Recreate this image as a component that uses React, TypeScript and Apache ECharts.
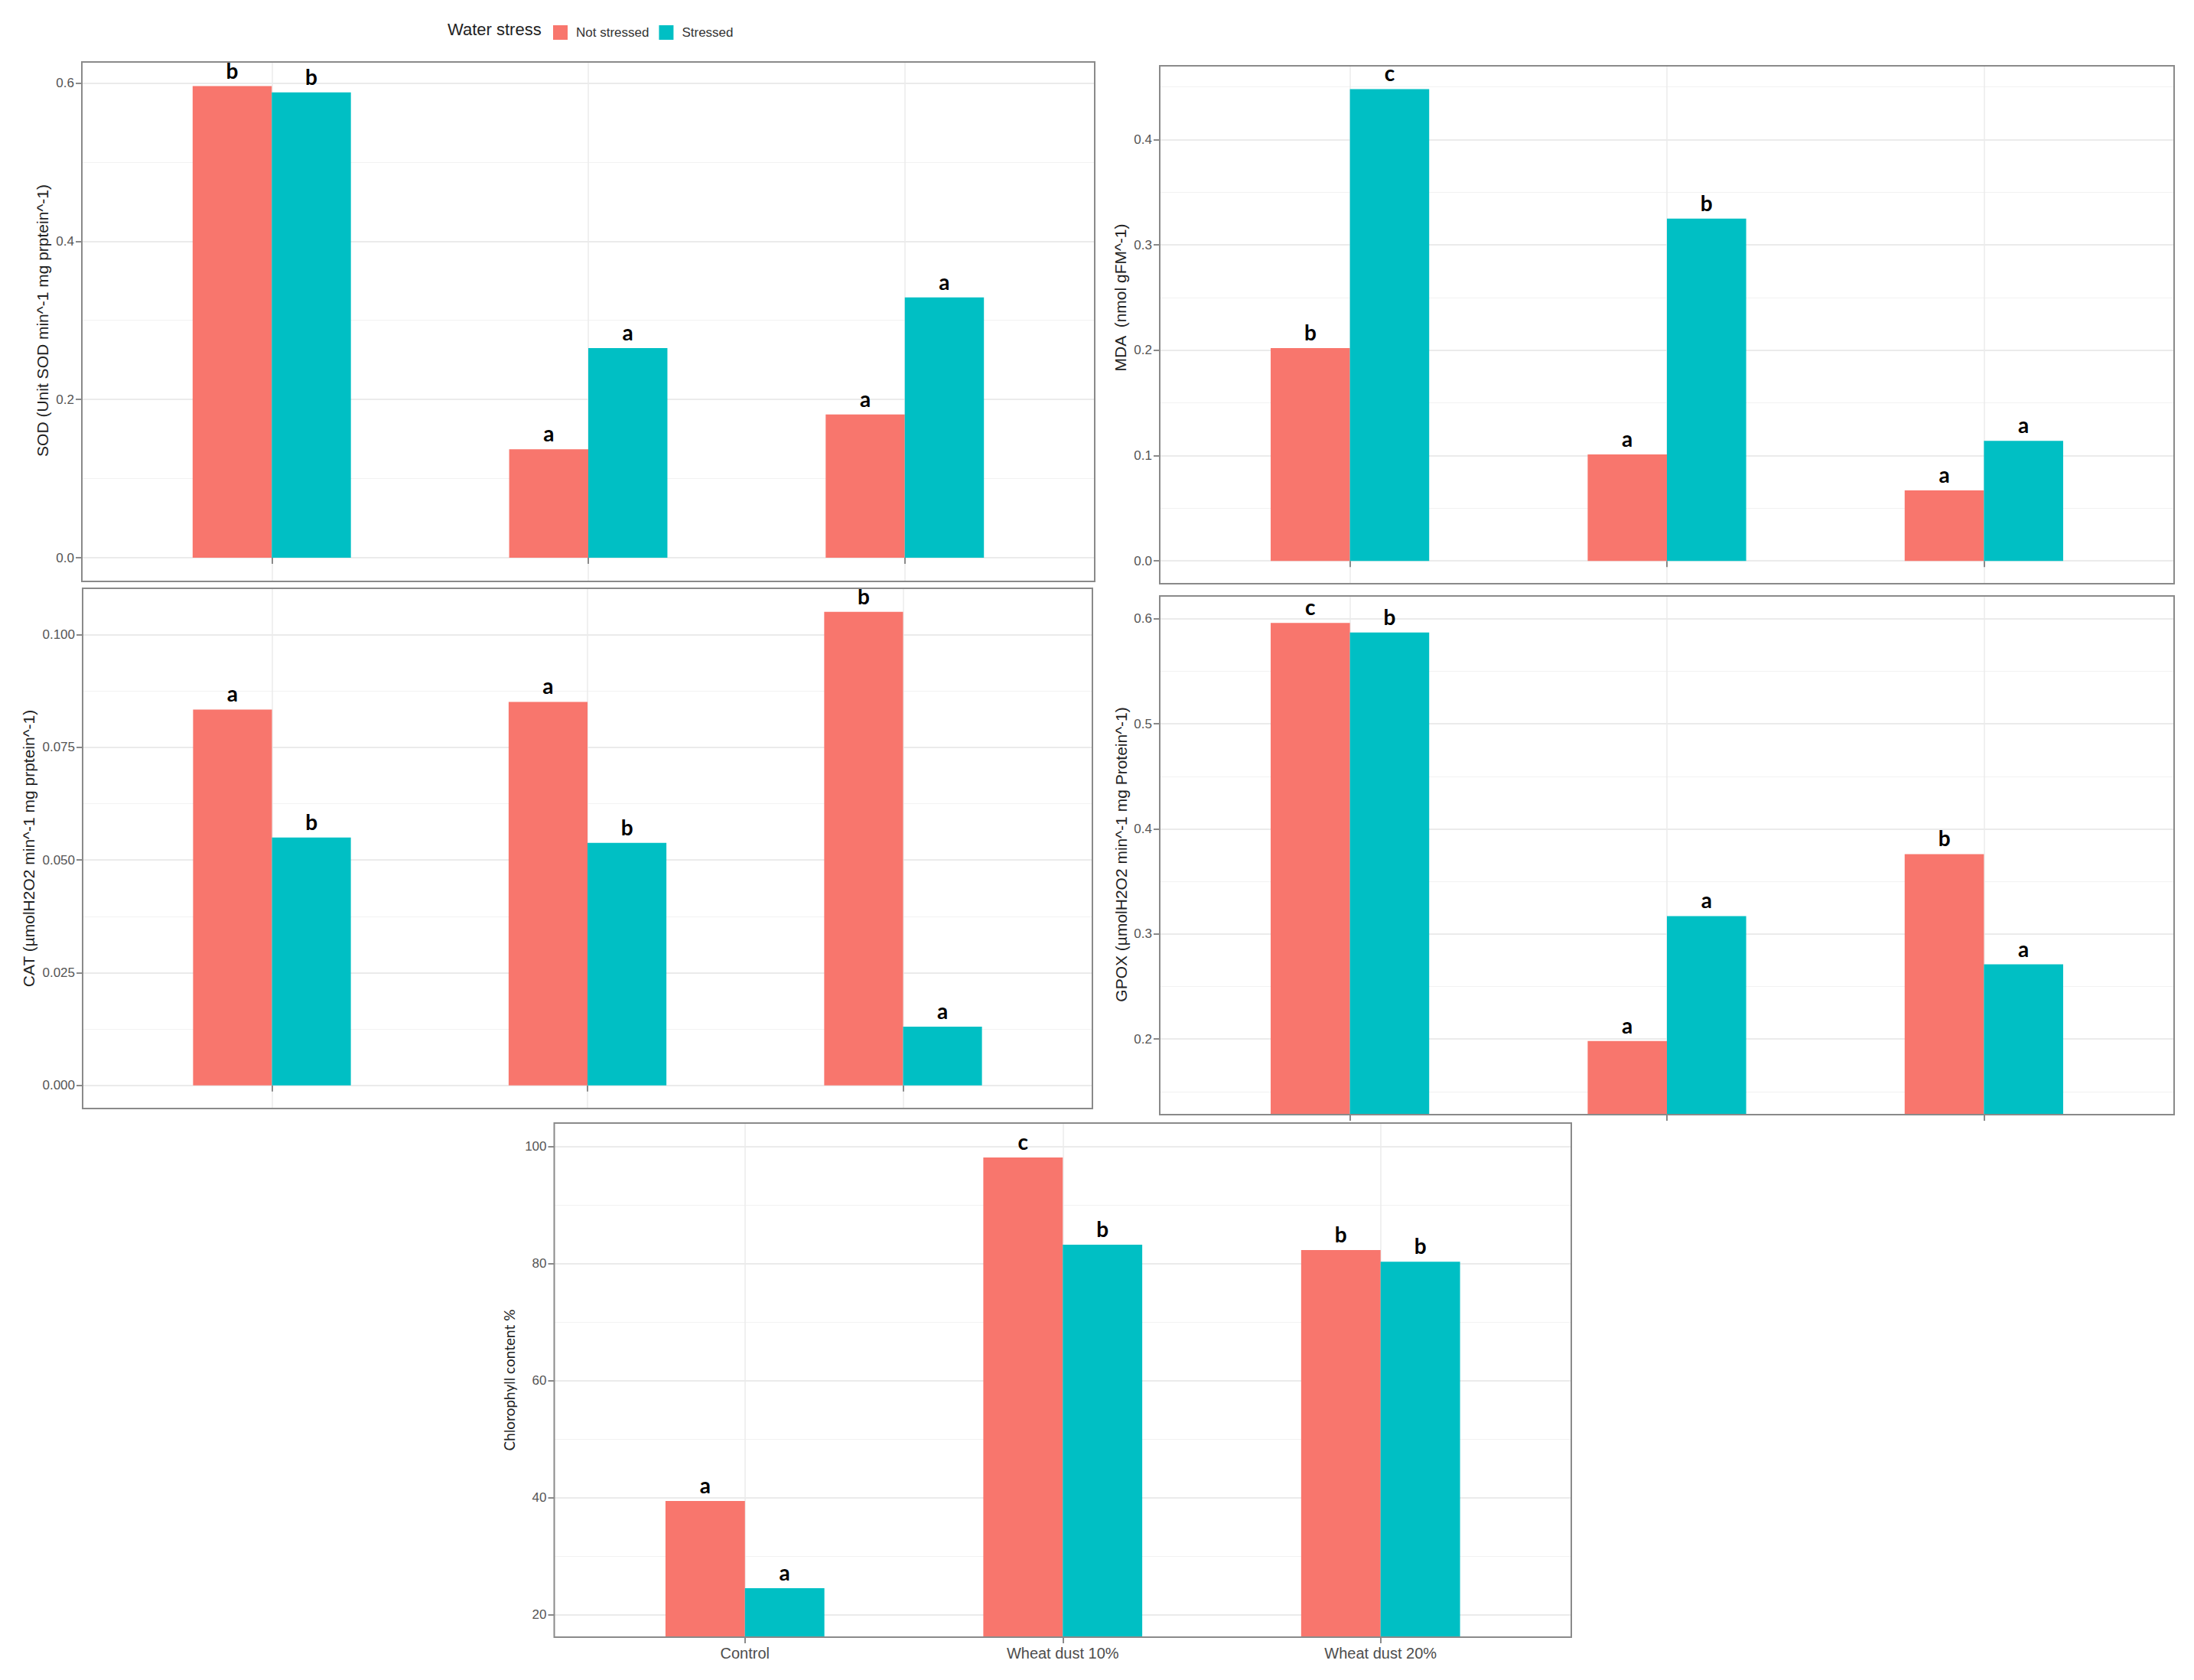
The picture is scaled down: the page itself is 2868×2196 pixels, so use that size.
import React, { useEffect, useRef } from 'react';
import * as echarts from 'echarts';

// ---------- data ----------
const categories = ['Control', 'Wheat dust 10%', 'Wheat dust 20%'];
const seriesNames = ['Not stressed', 'Stressed'];
const legendTitle = 'Water stress';

const sodNot = [0.596, 0.137, 0.181];
const sodStr = [0.588, 0.265, 0.329];
const sodNotLetters = ['b', 'a', 'a'];
const sodStrLetters = ['b', 'a', 'a'];
const sodTicks = [0, 0.2, 0.4, 0.6];
const sodMinor = [0.1, 0.3, 0.5];

const mdaNot = [0.202, 0.101, 0.067];
const mdaStr = [0.448, 0.325, 0.114];
const mdaNotLetters = ['b', 'a', 'a'];
const mdaStrLetters = ['c', 'b', 'a'];
const mdaTicks = [0, 0.1, 0.2, 0.3, 0.4];
const mdaMinor = [0.05, 0.15, 0.25, 0.35, 0.45];

const catNot = [0.0834, 0.0851, 0.1051];
const catStr = [0.055, 0.0538, 0.013];
const catNotLetters = ['a', 'a', 'b'];
const catStrLetters = ['b', 'b', 'a'];
const catTicks = [0, 0.025, 0.05, 0.075, 0.1];
const catMinor = [0.0125, 0.0375, 0.0625, 0.0875];

const gpoxNot = [0.596, 0.198, 0.376];
const gpoxStr = [0.587, 0.317, 0.271];
const gpoxNotLetters = ['c', 'a', 'b'];
const gpoxStrLetters = ['b', 'a', 'a'];
const gpoxTicks = [0.2, 0.3, 0.4, 0.5, 0.6];
const gpoxMinor = [0.15, 0.25, 0.35, 0.45, 0.55];

const chlNot = [39.4, 98.1, 82.3];
const chlStr = [24.5, 83.2, 80.3];
const chlNotLetters = ['a', 'c', 'b'];
const chlStrLetters = ['a', 'b', 'b'];
const chlTicks = [20, 40, 60, 80, 100];
const chlMinor = [30, 50, 70, 90];

const categoryPositions = [1, 2, 3];

// ---------- styling / layout ----------
const PINK = '#F8766D';
const TEAL = '#00BFC4';
const SANS = "'Liberation Sans', Arial, Helvetica, sans-serif";
const LETTER_FONT = "Lato, 'Open Sans', sans-serif";

const panels = [
  {
    title: 'SOD (Unit SOD min^-1 mg prptein^-1)',
    not: sodNot, str: sodStr, notL: sodNotLetters, strL: sodStrLetters,
    ticks: sodTicks, minor: sodMinor, digits: 1, min: -0.0299, max: 0.6265,
    grid: { left: 107, top: 81, width: 1324, height: 679 },
    tx: 55, ty: 419, tfont: 21, tfamily: SANS, xLabels: false,
  },
  {
    title: 'MDA  (nmol gFM^-1)',
    not: mdaNot, str: mdaStr, notL: mdaNotLetters, strL: mdaStrLetters,
    ticks: mdaTicks, minor: mdaMinor, digits: 1, min: -0.0217, max: 0.4701,
    grid: { left: 1516, top: 86, width: 1326, height: 677 },
    tx: 1464, ty: 389, tfont: 21, tfamily: SANS, xLabels: false,
  },
  {
    title: 'CAT (µmolH2O2 min^-1 mg prptein^-1)',
    not: catNot, str: catStr, notL: catNotLetters, strL: catStrLetters,
    ticks: catTicks, minor: catMinor, digits: 3, min: -0.00515, max: 0.1103,
    grid: { left: 108, top: 769, width: 1320, height: 680 },
    tx: 37, ty: 1109, tfont: 21, tfamily: SANS, xLabels: false,
  },
  {
    title: 'GPOX (µmolH2O2 min^-1 mg Protein^-1)',
    not: gpoxNot, str: gpoxStr, notL: gpoxNotLetters, strL: gpoxStrLetters,
    ticks: gpoxTicks, minor: gpoxMinor, digits: 1, min: 0.128, max: 0.6217,
    grid: { left: 1516, top: 779, width: 1326, height: 678 },
    tx: 1465, ty: 1117, tfont: 21, tfamily: SANS, xLabels: false,
  },
  {
    title: 'Chlorophyll content %',
    not: chlNot, str: chlStr, notL: chlNotLetters, strL: chlStrLetters,
    ticks: chlTicks, minor: chlMinor, digits: 0, min: 16.13, max: 103.99,
    grid: { left: 724.5, top: 1468, width: 1329.5, height: 672 },
    tx: 665, ty: 1804, tfont: 19, tfamily: LETTER_FONT, xLabels: true,
  },
];

function buildOption() {
  const grids: any[] = [];
  const xAxes: any[] = [];
  const yAxes: any[] = [];
  const series: any[] = [];
  const graphics: any[] = [];

  panels.forEach((p, i) => {
    grids.push({ ...p.grid, show: false });
    xAxes.push({
      type: 'value',
      gridIndex: i,
      min: 0.4,
      max: 3.6,
      axisLine: { show: false },
      axisTick: {
        show: true,
        customValues: categoryPositions,
        length: 8,
        lineStyle: { color: '#8a8a8a', width: 2 },
      },
      axisLabel: {
        show: p.xLabels,
        customValues: categoryPositions,
        formatter: (v: number) => categories[Math.round(v) - 1] ?? '',
        fontSize: 20,
        color: '#4d4d4d',
        fontFamily: SANS,
        margin: 11,
      },
      splitLine: { show: true, lineStyle: { color: '#ebebeb', width: 1.5 } },
    });
    // major y axis
    yAxes.push({
      type: 'value',
      gridIndex: i,
      min: p.min,
      max: p.max,
      position: 'left',
      axisLine: { show: false },
      axisTick: {
        show: true,
        customValues: p.ticks,
        length: 8,
        lineStyle: { color: '#8a8a8a', width: 2 },
      },
      axisLabel: {
        show: true,
        customValues: p.ticks,
        formatter: (v: number) => v.toFixed(p.digits),
        fontSize: 17,
        color: '#555555',
        fontFamily: SANS,
        margin: 10,
      },
      splitLine: { show: true, lineStyle: { color: '#ebebeb', width: 2 } },
    });
    // minor gridline axis
    yAxes.push({
      type: 'value',
      gridIndex: i,
      min: p.min,
      max: p.max,
      position: 'left',
      axisLine: { show: false },
      axisTick: { show: false, customValues: p.minor },
      axisLabel: { show: false },
      splitLine: { show: true, lineStyle: { color: '#f2f2f2', width: 1 } },
    });
    const yIdx = i * 2;
    const mk = (name: string, vals: number[], letters: string[], color: string) => ({
      type: 'bar',
      name,
      xAxisIndex: i,
      yAxisIndex: yIdx,
      barWidth: '25%',
      barGap: '0%',
      itemStyle: { color },
      data: vals.map((v, k) => [categoryPositions[k], v]),
      label: {
        show: true,
        position: 'top',
        distance: 7,
        formatter: (prm: any) => letters[prm.dataIndex],
        fontSize: 28,
        fontWeight: 'bold',
        fontFamily: LETTER_FONT,
        color: '#000000',
      },
    });
    series.push(mk(seriesNames[0], p.not, p.notL, PINK));
    series.push(mk(seriesNames[1], p.str, p.strL, TEAL));

    graphics.push({
      type: 'rect',
      z: 100,
      silent: true,
      shape: { x: p.grid.left, y: p.grid.top, width: p.grid.width, height: p.grid.height },
      style: { fill: 'none', stroke: '#8a8a8a', lineWidth: 2 },
    });
    graphics.push({
      type: 'text',
      z: 100,
      x: p.tx,
      y: p.ty,
      rotation: Math.PI / 2,
      style: {
        text: p.title,
        fontSize: p.tfont,
        fontFamily: p.tfamily,
        fill: '#222222',
        textAlign: 'center',
        textVerticalAlign: 'middle',
        align: 'center',
        verticalAlign: 'middle',
      },
    });
  });

  graphics.push({
    type: 'text',
    x: 585,
    y: 38,
    style: {
      text: legendTitle,
      fontSize: 22,
      fontFamily: SANS,
      fill: '#222222',
      textAlign: 'left',
      textVerticalAlign: 'middle',
      align: 'left',
      verticalAlign: 'middle',
    },
  });

  return {
    animation: false,
    backgroundColor: '#ffffff',
    legend: {
      left: 718,
      top: 28,
      itemWidth: 19,
      itemHeight: 19,
      itemGap: 13,
      icon: 'rect',
      data: seriesNames,
      textStyle: { fontSize: 17, color: '#333333', fontFamily: SANS, padding: [0, 0, 0, 6] },
    },
    grid: grids,
    xAxis: xAxes,
    yAxis: yAxes,
    series,
    graphic: graphics,
  };
}

export default function App() {
  const ref = useRef<HTMLDivElement | null>(null);
  useEffect(() => {
    if (!ref.current) return;
    const chart = echarts.init(ref.current, undefined, { renderer: 'svg' });
    chart.setOption(buildOption() as any);
    return () => {
      chart.dispose();
    };
  }, []);
  return (
    <div
      ref={ref}
      style={{ position: 'absolute', left: 0, top: 0, width: 2868, height: 2196, background: '#fff' }}
    />
  );
}
